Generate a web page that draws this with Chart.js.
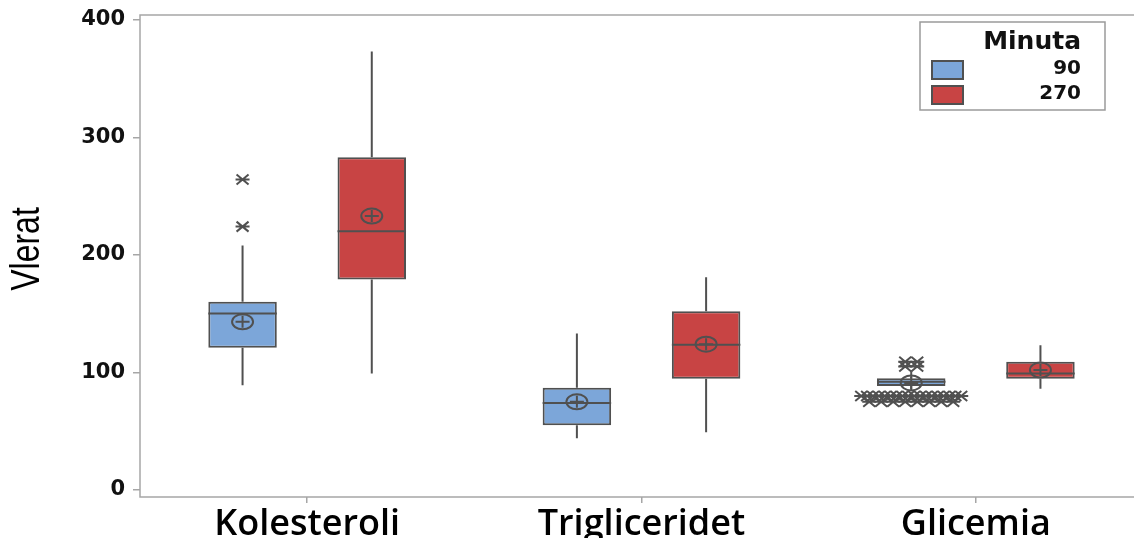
<!DOCTYPE html>
<html>
<head>
<meta charset="utf-8">
<script src="https://cdn.jsdelivr.net/npm/chart.js@4.4.1/dist/chart.umd.min.js"></script>
<style>
  html, body { margin: 0; padding: 0; background: #fff; overflow: hidden; }
  #wrap { width: 1150px; height: 538px; }
</style>
</head>
<body>
<div id="wrap"><canvas id="mycanvas"></canvas></div>
<script>
// data
var categories = ['Kolesteroli', 'Trigliceridet', 'Glicemia'];
var seriesLabels = ['90', '270'];
var legendTitle = 'Minuta';
var yTitle = 'Vlerat';
var yTicks = [0, 100, 200, 300, 400];

var min90  = [89, 44, 85];
var q1_90  = [121, 55, 88.5];
var med90  = [150, 74, 92];
var q3_90  = [160, 87, 95];
var max90  = [208, 133, 101];
var mean90 = [143, 75, 91];
var out90  = [
	[264, 224],
	[],
	[109, 109, 105, 105,
	 80, 80, 80, 80, 80, 80, 80, 80, 80, 80, 80, 80, 80, 80, 80, 80, 80, 80,
	 75, 75, 75, 75, 75, 75, 75, 75]
];

var min270  = [99, 49, 86];
var q1_270  = [179, 94.5, 94.5];
var med270  = [220, 123.5, 99];
var q3_270  = [283, 152, 109];
var max270  = [373, 181, 123];
var mean270 = [233, 124, 102];
var out270  = [[], [], []];

var blue = 'rgb(124,166,217)';
var red = 'rgb(200,68,68)';
var ink = '#505050';
var frame = '#a6a6a6';

function boxes(q1, q3){
	var arr = [];
	for (var i in q1){
		arr.push([q1[i], q3[i]]);
	}
	return arr;
}

var stats = [
	{min: min90, med: med90, mean: mean90, max: max90, out: out90},
	{min: min270, med: med270, mean: mean270, max: max270, out: out270}
];

function star(ctx, x, y){
	ctx.beginPath();
	ctx.moveTo(x - 6, y - 5); ctx.lineTo(x + 6, y + 5);
	ctx.moveTo(x - 6, y + 5); ctx.lineTo(x + 6, y - 5);
	ctx.moveTo(x - 7, y); ctx.lineTo(x + 7, y);
	ctx.stroke();
}

var boxPlugin = {
	id: 'boxparts',
	beforeDatasetsDraw: function(chart){
		var ctx = chart.ctx, y = chart.scales.y;
		ctx.save();
		ctx.strokeStyle = ink;
		ctx.lineWidth = 2;
		chart.data.datasets.forEach(function(ds, d){
			var meta = chart.getDatasetMeta(d);
			meta.data.forEach(function(el, i){
				var s = stats[d];
				ctx.beginPath();
				ctx.moveTo(el.x, y.getPixelForValue(ds.data[i][1]));
				ctx.lineTo(el.x, y.getPixelForValue(s.max[i]));
				ctx.moveTo(el.x, y.getPixelForValue(ds.data[i][0]));
				ctx.lineTo(el.x, y.getPixelForValue(s.min[i]));
				ctx.stroke();
			});
		});
		ctx.restore();
	},
	afterDatasetsDraw: function(chart){
		var ctx = chart.ctx, y = chart.scales.y;
		ctx.save();
		ctx.strokeStyle = ink;
		ctx.lineWidth = 2;
		chart.data.datasets.forEach(function(ds, d){
			var meta = chart.getDatasetMeta(d);
			meta.data.forEach(function(el, i){
				var s = stats[d];
				var half = el.width / 2;
				// median
				var ym = y.getPixelForValue(s.med[i]);
				ctx.beginPath();
				ctx.moveTo(el.x - half, ym);
				ctx.lineTo(el.x + half, ym);
				ctx.stroke();
				// mean symbol
				var ya = y.getPixelForValue(s.mean[i]);
				ctx.beginPath();
				ctx.ellipse(el.x, ya, 10.5, 7.5, 0, 0, Math.PI * 2);
				ctx.moveTo(el.x - 7, ya); ctx.lineTo(el.x + 7, ya);
				ctx.moveTo(el.x, ya - 6); ctx.lineTo(el.x, ya + 6);
				ctx.stroke();
				// outliers, ties spread sideways
				var counts = {};
				s.out[i].forEach(function(v){ counts[v] = (counts[v] || 0) + 1; });
				var seen = {};
				s.out[i].forEach(function(v){
					var n = counts[v];
					var k = seen[v] || 0;
					seen[v] = k + 1;
					var gap = n > 1 ? Math.min(12, 100 / (n - 1)) : 0;
					star(ctx, el.x + (k - (n - 1) / 2) * gap, y.getPixelForValue(v));
				});
			});
		});
		ctx.restore();
	}
};

var framePlugin = {
	id: 'frame',
	afterDraw: function(chart){
		var a = chart.chartArea, ctx = chart.ctx;
		ctx.save();
		ctx.strokeStyle = frame;
		ctx.lineWidth = 1.5;
		ctx.strokeRect(a.left, a.top, a.right - a.left, a.bottom - a.top);

		// y title, condensed
		ctx.save();
		ctx.translate(28, (a.top + a.bottom) / 2 - 7);
		ctx.rotate(-Math.PI / 2);
		ctx.scale(0.8, 1);
		ctx.fillStyle = '#000';
		ctx.textAlign = 'center';
		ctx.textBaseline = 'middle';
		ctx.font = '40px "Liberation Sans"';
		ctx.fillText(yTitle, 0, 0);
		ctx.restore();

		// legend box
		var bx = a.right - 223, by = a.top + 7, bw = 185, bh = 88;
		ctx.strokeStyle = '#9a9a9a';
		ctx.lineWidth = 1.5;
		ctx.strokeRect(bx, by, bw, bh);
		ctx.fillStyle = '#111';
		ctx.textAlign = 'right';
		ctx.textBaseline = 'alphabetic';
		ctx.font = 'bold 25px "DejaVu Sans"';
		ctx.fillText(legendTitle, bx + 161, by + 27);
		ctx.font = 'bold 20px "DejaVu Sans"';
		chart.data.datasets.forEach(function(ds, d){
			var ry = by + 39 + d * 25;
			ctx.fillStyle = ds.backgroundColor;
			ctx.fillRect(bx + 12, ry, 31, 18);
			ctx.strokeStyle = ink;
			ctx.lineWidth = 2;
			ctx.strokeRect(bx + 12, ry, 31, 18);
			ctx.fillStyle = '#111';
			ctx.fillText(ds.label, bx + 161, ry + 13);
		});
		ctx.restore();
	}
};

var chartdata = {
	labels: categories,
	datasets: [
		{
			label: seriesLabels[0],
			backgroundColor: blue,
			borderColor: ink,
			borderWidth: 2,
			borderSkipped: false,
			data: boxes(q1_90, q3_90)
		},
		{
			label: seriesLabels[1],
			backgroundColor: red,
			borderColor: ink,
			borderWidth: 2,
			borderSkipped: false,
			data: boxes(q1_270, q3_270)
		}
	]
};

var ctx = document.getElementById('mycanvas');
var boxGraph = new Chart(ctx, {
	type: 'bar',
	data: chartdata,
	plugins: [boxPlugin, framePlugin],
	options: {
		responsive: true,
		maintainAspectRatio: false,
		animation: false,
		categoryPercentage: 0.773,
		barPercentage: 0.53,
		layout: { padding: { top: 15, right: 7, left: 0, bottom: 0 } },
		plugins: {
			legend: { display: false },
			tooltip: { enabled: false }
		},
		scales: {
			x: {
				grid: { offset: false, drawOnChartArea: false, tickLength: 6, color: frame, lineWidth: 1.5 },
				border: { display: false },
				ticks: { color: '#000', padding: 0, font: { family: 'Open Sans', size: 36, weight: '600' } },
				afterFit: function(scale){ scale.height = 41; }
			},
			y: {
				min: -6,
				max: 404,
				afterBuildTicks: function(axis){
					axis.ticks = yTicks.map(function(v){ return {value: v}; });
				},
				grid: { drawOnChartArea: false, tickLength: 7, color: frame, lineWidth: 1.5 },
				border: { display: false },
				ticks: { color: '#111', padding: 8, font: { family: 'DejaVu Sans', size: 21, weight: 'bold', lineHeight: 0.6 } },
				afterFit: function(scale){ scale.width = 140; }
			}
		}
	}
});
</script>
</body>
</html>
